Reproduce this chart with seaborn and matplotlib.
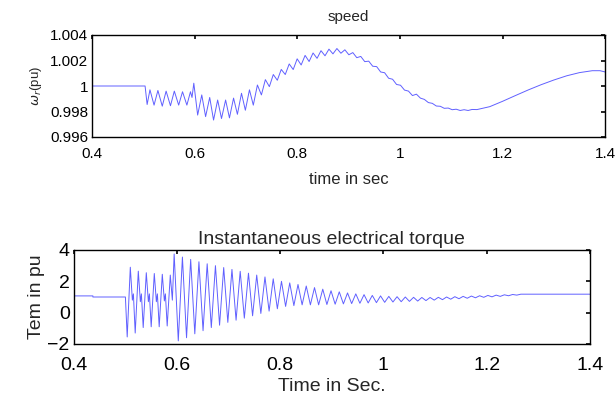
import numpy as np
import pandas as pd
import matplotlib
matplotlib.use("Agg")
import matplotlib.pyplot as plt
import seaborn as sns

# %% values (extrema of the oscillations)
speed_t = [
    0.400, 0.503, 0.507, 0.5125, 0.5205, 0.528, 0.5365, 0.544, 0.5525, 0.560,
    0.5685, 0.576, 0.5845, 0.5915, 0.5945, 0.598, 0.6055, 0.6135, 0.621, 0.629,
    0.6365, 0.6445, 0.652, 0.660, 0.6675, 0.6755, 0.683, 0.691, 0.6985, 0.7065,
    0.714, 0.722, 0.7298, 0.7375, 0.7453, 0.753, 0.7608, 0.7685, 0.7763, 0.784,
    0.7918, 0.7995, 0.8073, 0.815, 0.8228, 0.8305, 0.8383, 0.846, 0.8538, 0.8615,
    0.8693, 0.877, 0.8848, 0.8925, 0.9003, 0.908, 0.9158, 0.9235, 0.9313, 0.939,
    0.9468, 0.9545, 0.9623, 0.970, 0.9778, 0.9855, 0.9933, 1.001, 1.0088, 1.0165,
    1.0243, 1.032, 1.0398, 1.0475, 1.0553, 1.063, 1.0708, 1.0785, 1.0863, 1.094,
    1.1018, 1.1095, 1.1173, 1.125, 1.1328, 1.1405, 1.150, 1.175, 1.200, 1.225,
    1.250, 1.275, 1.300, 1.325, 1.350, 1.375, 1.390, 1.400,
]
speed_w = [
    1.0, 1.0, 0.99855, 0.9997, 0.9985, 0.99965, 0.99842, 0.9996, 0.99845, 0.9996,
    0.9985, 0.99955, 0.9985, 0.99955, 0.9991, 1.00022, 0.99772, 0.9993, 0.9976, 0.9991,
    0.99733, 0.9989, 0.99745, 0.9989, 0.9975, 0.99905, 0.99778, 0.99943, 0.9981, 0.9997,
    0.9985, 1.00008, 0.9993, 1.0005, 0.99995, 1.0009, 1.00045, 1.0013, 1.0009, 1.00173,
    1.00129, 1.00213, 1.00165, 1.0024, 1.00192, 1.00259, 1.00217, 1.00277, 1.00237, 1.00289,
    1.00252, 1.00294, 1.00257, 1.00284, 1.00245, 1.00262, 1.00222, 1.00232, 1.00191, 1.00195,
    1.00155, 1.00152, 1.0011, 1.00104, 1.00061, 1.00053, 1.00012, 1.00006, 0.99968, 0.9996,
    0.99925, 0.99936, 0.99905, 0.99895, 0.9987, 0.99864, 0.99843, 0.99841, 0.99825, 0.99827,
    0.99814, 0.99818, 0.99808, 0.99814, 0.99808, 0.99816, 0.99815, 0.99838, 0.9988, 0.99925,
    0.99969, 1.0001, 1.00047, 1.0008, 1.00105, 1.0012, 1.0012, 1.0011,
]

torque_t = [
    0.400, 0.437, 0.437, 0.500, 0.5035, 0.5095, 0.5135, 0.5155, 0.519, 0.525,
    0.529, 0.531, 0.5345, 0.5405, 0.5445, 0.5465, 0.550, 0.556, 0.560, 0.562,
    0.5655, 0.5715, 0.5755, 0.5775, 0.581, 0.587, 0.591, 0.5945, 0.6025, 0.6105,
    0.6185, 0.6265, 0.6345, 0.6425, 0.6505, 0.6585, 0.6665, 0.6745, 0.6825, 0.6905,
    0.6985, 0.7065, 0.7145, 0.7225, 0.7305, 0.7385, 0.7465, 0.7545, 0.7625, 0.7705,
    0.7785, 0.7865, 0.7945, 0.8025, 0.8105, 0.8185, 0.8265, 0.8345, 0.8425, 0.8505,
    0.8585, 0.8665, 0.8745, 0.8825, 0.8905, 0.8985, 0.9065, 0.9145, 0.9225, 0.9305,
    0.9385, 0.9465, 0.9545, 0.9625, 0.9705, 0.9785, 0.9865, 0.9945, 1.0025, 1.0105,
    1.0185, 1.0265, 1.0345, 1.0425, 1.0505, 1.0585, 1.0665, 1.0745, 1.0825, 1.0905,
    1.0985, 1.1065, 1.1145, 1.1225, 1.1305, 1.1385, 1.1465, 1.1545, 1.1625, 1.1705,
    1.1785, 1.1865, 1.1945, 1.2025, 1.2105, 1.2185, 1.2265, 1.2345, 1.2425, 1.2505,
    1.2585, 1.2665, 1.400,
]
torque_v = [
    1.07, 1.07, 1.0, 1.0, -1.55, 2.9, 0.8, 1.2, -1.3, 2.65,
    0.7, 1.2, -0.95, 2.55, 0.7, 1.2, -0.9, 2.5, 0.7, 1.2,
    -0.9, 2.45, 0.75, 1.2, -0.85, 2.4, 0.8, 3.75, -1.8, 3.55,
    -1.6, 3.4, -1.35, 3.25, -1.15, 3.12, -0.95, 3.0, -0.8, 2.88,
    -0.62, 2.76, -0.48, 2.64, -0.35, 2.52, -0.2, 2.4, -0.05, 2.28,
    0.1, 2.16, 0.25, 2.0, 0.4, 1.9, 0.45, 1.8, 0.5, 1.7,
    0.5, 1.6, 0.5, 1.5, 0.52, 1.4, 0.54, 1.33, 0.56, 1.26,
    0.58, 1.2, 0.6, 1.15, 0.62, 1.1, 0.64, 1.07, 0.66, 1.04,
    0.68, 1.02, 0.7, 1.0, 0.72, 0.98, 0.74, 0.97, 0.77, 0.97,
    0.8, 0.98, 0.83, 1.0, 0.86, 1.02, 0.89, 1.04, 0.92, 1.06,
    0.95, 1.08, 0.98, 1.1, 1.01, 1.12, 1.04, 1.14, 1.08, 1.16,
    1.12, 1.18, 1.18,
]

x_ticks = [0.4, 0.6, 0.8, 1.0, 1.2, 1.4]
x_ticklabels = ["0.4", "0.6", "0.8", "1", "1.2", "1.4"]
speed_ticks = [0.996, 0.998, 1.0, 1.002, 1.004]
speed_ticklabels = ["0.996", "0.998", "1", "1.002", "1.004"]
torque_ticks = [-2, 0, 2, 4]

# %%
sns.set_style("white")
plt.rcParams["font.family"] = ["Liberation Sans", "DejaVu Sans"]
plt.rcParams["mathtext.fontset"] = "dejavusans"

df_speed = pd.DataFrame({"t": speed_t, "w": speed_w})
df_torque = pd.DataFrame({"t": torque_t, "tem": torque_v})

fig = plt.figure(figsize=(6.15, 4.0), dpi=100)
ax1 = fig.add_axes([0.150, 0.6575, 0.834, 0.255])
ax2 = fig.add_axes([0.120, 0.140, 0.839, 0.235])

line_col = "#6060ff"
sns.lineplot(data=df_speed, x="t", y="w", ax=ax1, color=line_col,
             lw=0.7, estimator=None, sort=False)
sns.lineplot(data=df_torque, x="t", y="tem", ax=ax2, color=line_col,
             lw=0.7, estimator=None, sort=False)

ax1.set_xlim(0.4, 1.4)
ax1.set_ylim(0.996, 1.004)
ax1.set_xticks(x_ticks, x_ticklabels)
ax1.set_yticks(speed_ticks, speed_ticklabels)
ax1.set_title("speed", fontsize=11, pad=10)
ax1.set_xlabel("time in sec", fontsize=12, labelpad=8)
ax1.set_ylabel(r"$\omega_r$(pu)", fontsize=9.5, labelpad=4)
ax1.tick_params(labelsize=11)
ax1.tick_params(axis="x", pad=7)

ax2.set_xlim(0.4, 1.4)
ax2.set_ylim(-2, 4)
ax2.set_xticks(x_ticks, x_ticklabels)
ax2.set_yticks(torque_ticks)
ax2.set_title("Instantaneous electrical torque", fontsize=14, pad=4)
ax2.set_xlabel("Time in Sec.", fontsize=14, labelpad=3)
ax2.set_ylabel("Tem in pu", fontsize=14, labelpad=2)
ax2.tick_params(labelsize=14)
ax2.tick_params(axis="x", pad=9)

for ax in (ax1, ax2):
    ax.tick_params(direction="in", top=True, right=True, length=3, width=1.2,
                   colors="black")
    ax.tick_params(axis="y", pad=3)
    for s in ax.spines.values():
        s.set_color("black")
        s.set_linewidth(1.0)

fig.savefig("out.png", dpi=100)
